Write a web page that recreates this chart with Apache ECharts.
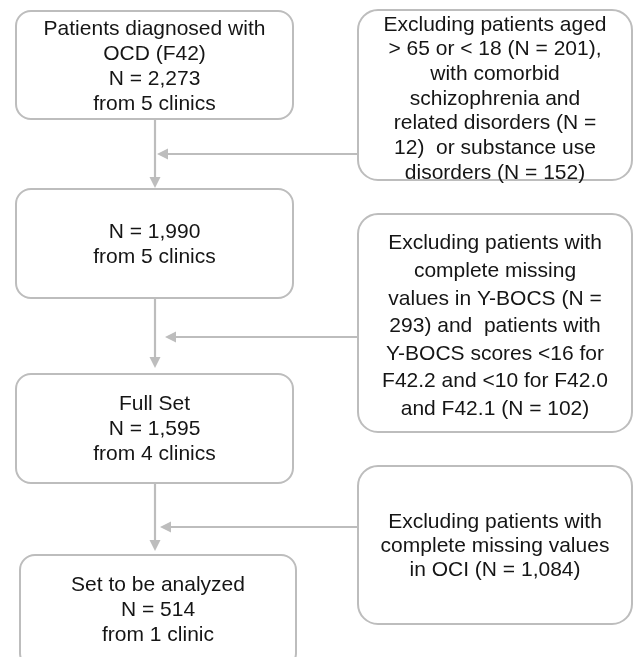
<!DOCTYPE html>
<html><head><meta charset="utf-8">
<script src="https://cdn.jsdelivr.net/npm/echarts@6/dist/echarts.min.js"></script>
<style>html,body{margin:0;padding:0;background:#fff}#c{width:635px;height:657px}</style>
</head><body><div id="c"></div>
<script>
// ---- content ----
const mainSteps = [
  'Patients diagnosed with\nOCD (F42)\nN = 2,273\nfrom 5 clinics',
  'N = 1,990\nfrom 5 clinics',
  'Full Set\nN = 1,595\nfrom 4 clinics',
  'Set to be analyzed\nN = 514\nfrom 1 clinic'
];
const exclusionSteps = [
  'Excluding patients aged\n> 65 or < 18 (N = 201),\nwith comorbid\nschizophrenia and\nrelated disorders (N =\n12)  or substance use\ndisorders (N = 152)',
  'Excluding patients with\ncomplete missing\nvalues in Y-BOCS (N =\n293) and  patients with\nY-BOCS scores <16 for\nF42.2 and <10 for F42.0\nand F42.1 (N = 102)',
  'Excluding patients with\ncomplete missing values\nin OCI (N = 1,084)'
];

// ---- layout (pixel-space coordinates on hidden axes) ----
const mainBoxes = [[16, 11, 293, 119], [16, 189, 293, 298], [16, 374, 293, 483], [20, 555, 296, 668]];
const mainTextDy = [1.5, 1, 0.5, -1.5];
const exclBoxes = [[358, 10, 632, 180], [358, 214, 632, 432], [358, 466, 632, 624]];
const exclTextDy = [4, 3.5, 1];
const exclLineHeights = [24.7, 27.6, 24];
const vArrows = [[155, 119, 155, 188], [155, 298, 155, 368], [155, 483, 155, 551]];
const hArrows = [[358, 154, 157, 154], [357, 337, 165, 337], [358, 527, 160, 527]];

const GREY = '#bdbdbd';
const FONT = '21px "Liberation Sans", Arial, Helvetica, sans-serif';

const boxData = [];
mainSteps.forEach((t, i) => {
  const b = mainBoxes[i];
  boxData.push({ value: [b[0], b[1], b[2], b[3]], text: t, dy: mainTextDy[i], lh: 25, r: 15 });
});
exclusionSteps.forEach((t, i) => {
  const b = exclBoxes[i];
  boxData.push({ value: [b[0], b[1], b[2], b[3]], text: t, dy: exclTextDy[i], lh: exclLineHeights[i], r: 20 });
});
const arrowData = vArrows.concat(hArrows).map(a => ({ value: a }));

const chart = echarts.init(document.getElementById('c'), null, { renderer: 'canvas' });
chart.setOption({
  backgroundColor: '#fff',
  animation: false,
  grid: { left: 0, right: 0, top: 0, bottom: 0 },
  xAxis: { type: 'value', min: 0, max: 635, show: false },
  yAxis: { type: 'value', min: 0, max: 657, inverse: true, show: false },
  series: [
    {
      type: 'custom',
      clip: false,
      data: arrowData,
      renderItem: function (params, api) {
        const p0 = api.coord([api.value(0), api.value(1)]);
        const p1 = api.coord([api.value(2), api.value(3)]);
        const dx = p1[0] - p0[0], dy = p1[1] - p0[1];
        const len = Math.sqrt(dx * dx + dy * dy);
        const ux = dx / len, uy = dy / len;
        const hl = 11, hw = 5.5;
        const base = [p1[0] - ux * hl, p1[1] - uy * hl];
        return {
          type: 'group',
          children: [
            { type: 'line', shape: { x1: p0[0], y1: p0[1], x2: base[0], y2: base[1] },
              style: { stroke: GREY, lineWidth: 2.2 } },
            { type: 'polygon', shape: { points: [p1, [base[0] - uy * hw, base[1] + ux * hw], [base[0] + uy * hw, base[1] - ux * hw]] },
              style: { fill: GREY } }
          ]
        };
      }
    },
    {
      type: 'custom',
      clip: false,
      data: boxData,
      renderItem: function (params, api) {
        const d = boxData[params.dataIndex];
        const a = api.coord([api.value(0), api.value(1)]);
        const b = api.coord([api.value(2), api.value(3)]);
        const cx = (a[0] + b[0]) / 2, cy = (a[1] + b[1]) / 2 + d.dy;
        return {
          type: 'group',
          children: [
            { type: 'rect', shape: { x: a[0], y: a[1], width: b[0] - a[0], height: b[1] - a[1], r: d.r },
              style: { fill: 'rgba(255,255,255,0)', stroke: GREY, lineWidth: 2 } },
            { type: 'text', style: { text: d.text, x: cx, y: cy, align: 'center', verticalAlign: 'middle',
                font: FONT, lineHeight: d.lh, fill: '#151515' } }
          ]
        };
      }
    }
  ]
});
</script></body></html>
